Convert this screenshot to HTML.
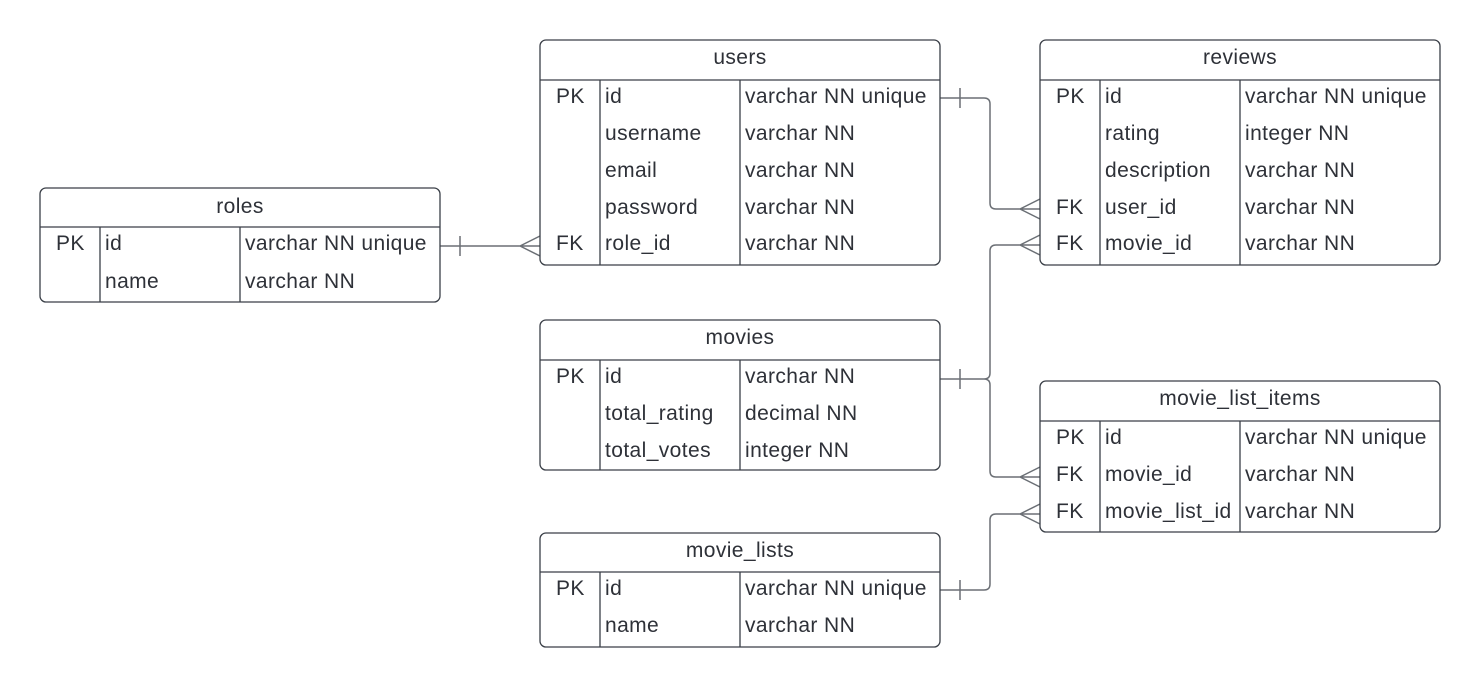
<!DOCTYPE html>
<html><head><meta charset="utf-8"><style>
html,body{margin:0;padding:0;background:#fff;}
svg{display:block;font-family:"Liberation Sans",sans-serif;font-size:21px;letter-spacing:0.4px;fill:#333;}
.b{fill:#fff;stroke:#3a3f47;stroke-width:1.3;}
.l{stroke:#3a3f47;stroke-width:1.3;fill:none;}
.c{stroke:#6b6f75;stroke-width:1.5;fill:none;}
text{fill:#2e3138;}
.h{text-anchor:middle;}
</style></head><body>
<svg width="1480" height="687" viewBox="0 0 1480 687" xmlns="http://www.w3.org/2000/svg">
<path class="c" d="M440 246 H540 M460 236 V256 M520 246 L540 236 M520 246 L540 256"/>
<path class="c" d="M940 98 H984 Q990 98 990 104 V203 Q990 209 996 209 H1040 M960 88 V108 M1020 209 L1040 199 M1020 209 L1040 219"/>
<path class="c" d="M940 379 H984 Q990 379 990 373 V251 Q990 245 996 245 H1040 M984 379 Q990 379 990 385 V471 Q990 477 996 477 H1040 M960 369 V389 M1020 245 L1040 235 M1020 245 L1040 255 M1020 477 L1040 467 M1020 477 L1040 487"/>
<path class="c" d="M940 590 H984 Q990 590 990 584 V520 Q990 514 996 514 H1040 M960 580 V600 M1020 514 L1040 504 M1020 514 L1040 524"/>

<rect class="b" x="540" y="40" width="400" height="225" rx="6"/>
<path class="l" d="M540 80 H940 M600 80 V265 M740 80 V265"/>
<text class="h" x="740" y="64">users</text>
<text x="556" y="103">PK</text><text x="605" y="103">id</text><text x="745" y="103">varchar NN unique</text>
<text x="605" y="140">username</text><text x="745" y="140">varchar NN</text>
<text x="605" y="177">email</text><text x="745" y="177">varchar NN</text>
<text x="605" y="214">password</text><text x="745" y="214">varchar NN</text>
<text x="556" y="250">FK</text><text x="605" y="250">role_id</text><text x="745" y="250">varchar NN</text>

<rect class="b" x="1040" y="40" width="400" height="225" rx="6"/>
<path class="l" d="M1040 80 H1440 M1100 80 V265 M1240 80 V265"/>
<text class="h" x="1240" y="64">reviews</text>
<text x="1056" y="103">PK</text><text x="1105" y="103">id</text><text x="1245" y="103">varchar NN unique</text>
<text x="1105" y="140">rating</text><text x="1245" y="140">integer NN</text>
<text x="1105" y="177">description</text><text x="1245" y="177">varchar NN</text>
<text x="1056" y="214">FK</text><text x="1105" y="214">user_id</text><text x="1245" y="214">varchar NN</text>
<text x="1056" y="250">FK</text><text x="1105" y="250">movie_id</text><text x="1245" y="250">varchar NN</text>

<rect class="b" x="40" y="188" width="400" height="114" rx="6"/>
<path class="l" d="M40 227 H440 M100 227 V302 M240 227 V302"/>
<text class="h" x="240" y="213">roles</text>
<text x="56" y="250">PK</text><text x="105" y="250">id</text><text x="245" y="250">varchar NN unique</text>
<text x="105" y="288">name</text><text x="245" y="288">varchar NN</text>

<rect class="b" x="540" y="320" width="400" height="150" rx="6"/>
<path class="l" d="M540 360 H940 M600 360 V470 M740 360 V470"/>
<text class="h" x="740" y="344">movies</text>
<text x="556" y="383">PK</text><text x="605" y="383">id</text><text x="745" y="383">varchar NN</text>
<text x="605" y="420">total_rating</text><text x="745" y="420">decimal NN</text>
<text x="605" y="457">total_votes</text><text x="745" y="457">integer NN</text>

<rect class="b" x="1040" y="381" width="400" height="151" rx="6"/>
<path class="l" d="M1040 421 H1440 M1100 421 V532 M1240 421 V532"/>
<text class="h" x="1240" y="405">movie_list_items</text>
<text x="1056" y="444">PK</text><text x="1105" y="444">id</text><text x="1245" y="444">varchar NN unique</text>
<text x="1056" y="481">FK</text><text x="1105" y="481">movie_id</text><text x="1245" y="481">varchar NN</text>
<text x="1056" y="518">FK</text><text x="1105" y="518">movie_list_id</text><text x="1245" y="518">varchar NN</text>

<rect class="b" x="540" y="533" width="400" height="114" rx="6"/>
<path class="l" d="M540 572 H940 M600 572 V647 M740 572 V647"/>
<text class="h" x="740" y="557">movie_lists</text>
<text x="556" y="595">PK</text><text x="605" y="595">id</text><text x="745" y="595">varchar NN unique</text>
<text x="605" y="632">name</text><text x="745" y="632">varchar NN</text>
</svg>
</body></html>
